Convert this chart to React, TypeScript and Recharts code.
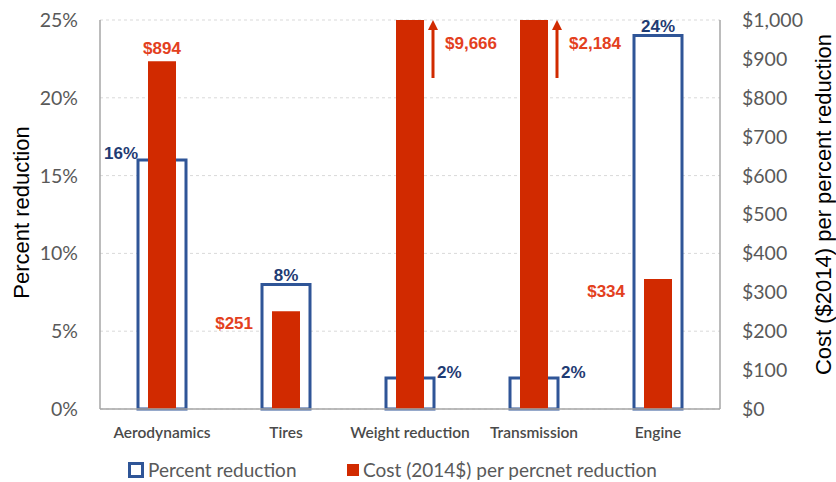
import { Bar, BarChart, CartesianGrid, LabelList, Legend, XAxis, YAxis } from "recharts";

const categories = ["Aerodynamics", "Tires", "Weight reduction", "Transmission", "Engine"];
const percentReduction = [16, 8, 2, 2, 24];
const costPerPercent = [894, 251, 9666, 2184, 334];
const pctTicks = [0, 5, 10, 15, 20, 25];
const costTicks = [0, 100, 200, 300, 400, 500, 600, 700, 800, 900, 1000];

// where each value label sits relative to its bar
const pctLabelPlace = ["topLeft", "top", "right", "right", "top"];
const costLabelPlace = ["top", "left", "arrow", "arrow", "left"];

const data = categories.map((name, i) => ({
  name,
  pct: percentReduction[i],
  cost: costPerPercent[i],
}));

const BLUE = "#2F5597";
const BLUE_TEXT = "#1F3B73";
const RED = "#D12A00";
const RED_TEXT = "#E3401E";
const PLOT_TOP = 20;

const labelFont = { fontFamily: "Arial, 'Liberation Sans'", fontSize: 17, fontWeight: 700 };

const PctLabel = (props: any) => {
  const { x, y, width, value, index } = props;
  const place = pctLabelPlace[index];
  const text = `${value}%`;
  if (place === "topLeft")
    return <text x={x} y={y - 1} textAnchor="end" fill={BLUE_TEXT} {...labelFont}>{text}</text>;
  if (place === "right")
    return <text x={x + width + 3} y={y} textAnchor="start" fill={BLUE_TEXT} {...labelFont}>{text}</text>;
  return <text x={x + width / 2} y={y - 4} textAnchor="middle" fill={BLUE_TEXT} {...labelFont}>{text}</text>;
};

const CostLabel = (props: any) => {
  const { x, y, width, value, index } = props;
  const place = costLabelPlace[index];
  const text = `$${Number(value).toLocaleString("en-US")}`;
  if (place === "left")
    return <text x={x - 19} y={y + 18} textAnchor="end" fill={RED_TEXT} {...labelFont}>{text}</text>;
  if (place === "arrow") {
    const top = Math.max(y, PLOT_TOP);
    const ax = x + width + 9;
    return (
      <g>
        <line x1={ax} y1={top + 8} x2={ax} y2={top + 58} stroke={RED} strokeWidth={3} />
        <polygon points={`${ax - 5},${top + 10} ${ax + 5},${top + 10} ${ax},${top}`} fill={RED} />
        <text x={x + width + 21} y={top + 29} textAnchor="start" fill={RED_TEXT} {...labelFont}>{text}</text>
      </g>
    );
  }
  return <text x={x + width / 2} y={y - 7} textAnchor="middle" fill={RED_TEXT} {...labelFont}>{text}</text>;
};

const AxisTitle = ({ viewBox, value, dx, dy }: any) => {
  const cx = viewBox.x + dx;
  const cy = viewBox.y + viewBox.height / 2 + dy;
  return (
    <text
      x={cx}
      y={cy}
      transform={`rotate(-90, ${cx}, ${cy})`}
      textAnchor="middle"
      dominantBaseline="central"
      fill="#000"
      fontFamily="Arial, 'Liberation Sans'"
      fontSize={22}
    >
      {value}
    </text>
  );
};

const renderLegend = () => (
  <div style={{ position: "relative", height: 38, fontFamily: "Lato", fontSize: 19, color: "#595959" }}>
    <div style={{ position: "absolute", left: 128, top: 14, display: "flex", alignItems: "center", lineHeight: "24px" }}>
      <span style={{ display: "inline-block", width: 10, height: 10, border: `3px solid ${BLUE}`, marginRight: 4 }} />
      Percent reduction
    </div>
    <div style={{ position: "absolute", left: 347, top: 14, display: "flex", alignItems: "center", lineHeight: "24px" }}>
      <span style={{ display: "inline-block", width: 12, height: 12, background: RED, marginRight: 4 }} />
      Cost (2014$) per percnet reduction
    </div>
  </div>
);

export default function App() {
  return (
    <div style={{ position: "absolute", left: 0, top: 0, background: "#fff" }}>
      <BarChart width={836} height={482} data={data} margin={{ top: PLOT_TOP, right: 0, bottom: 0, left: 0 }}>
        <CartesianGrid
          xAxisId="pct"
          yAxisId="pct"
          vertical={false}
          stroke="#d9d9d9"
          strokeDasharray="3 3"
        />
        <XAxis
          xAxisId="pct"
          dataKey="name"
          height={35}
          axisLine={{ stroke: "#a6a6a6", strokeWidth: 1.5 }}
          tickLine={false}
          tickMargin={12}
          interval={0}
          tick={{ fill: "#4a4a4a", fontSize: 15.5, fontFamily: "Lato", fontWeight: 600 }}
        />
        <XAxis xAxisId="cost" dataKey="name" hide height={0} />
        <YAxis
          yAxisId="pct"
          orientation="left"
          width={100}
          domain={[0, 25]}
          ticks={pctTicks}
          tickFormatter={(v) => `${v}%`}
          axisLine={{ stroke: "#a6a6a6", strokeWidth: 1.5 }}
          tickLine={false}
          tickMargin={16}
          tick={{ fill: "#595959", fontSize: 19.5, fontFamily: "Lato" }}
          label={<AxisTitle value="Percent reduction" dx={21} dy={-2} />}
        />
        <YAxis
          yAxisId="cost"
          orientation="right"
          width={116}
          domain={[0, 1000]}
          allowDataOverflow
          ticks={costTicks}
          tickFormatter={(v) => `$${Number(v).toLocaleString("en-US")}`}
          axisLine={{ stroke: "#a6a6a6", strokeWidth: 1.5 }}
          tickLine={false}
          tickMargin={16}
          tick={{ fill: "#595959", fontSize: 19.5, fontFamily: "Lato", textAnchor: "start" }}
          label={<AxisTitle value="Cost ($2014) per percent reduction" dx={103} dy={-10} />}
        />
        <Legend verticalAlign="bottom" height={38} wrapperStyle={{ left: 0, width: 836 }} content={renderLegend} />
        <Bar
          xAxisId="pct"
          yAxisId="pct"
          dataKey="pct"
          barSize={48}
          fill="#fff"
          stroke={BLUE}
          strokeWidth={3}
          isAnimationActive={false}
        >
          <LabelList dataKey="pct" content={PctLabel} />
        </Bar>
        <Bar xAxisId="cost" yAxisId="cost" dataKey="cost" barSize={28} fill={RED} isAnimationActive={false}>
          <LabelList dataKey="cost" content={CostLabel} />
        </Bar>
      </BarChart>
    </div>
  );
}
